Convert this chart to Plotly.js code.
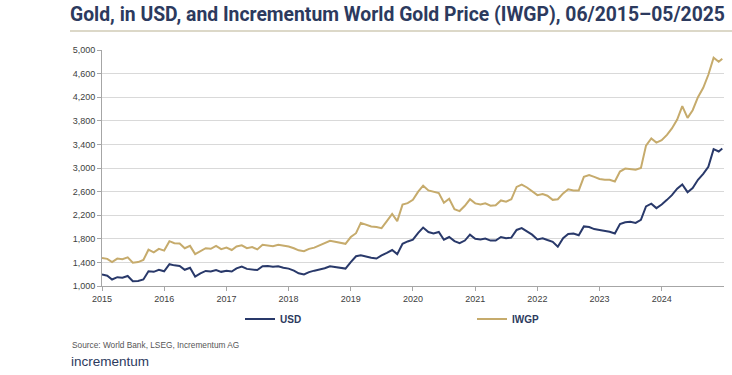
<!DOCTYPE html>
<html>
<head>
<meta charset="utf-8">
<script src="https://cdn.plot.ly/plotly-3.0.1.min.js"></script>
<style>
  html, body { margin: 0; padding: 0; background: #ffffff; }
  #chart { width: 732px; height: 375px; }
</style>
</head>
<body>
<div id="chart"></div>
<script>
// Monthly readings, chart positions from Jan 2015 (axis label "2015") onward
const usdValues = [
  1195,1175,1110,1150,1140,1170,1080,1085,1110,1250,
  1240,1275,1250,1370,1350,1340,1275,1310,1160,1215,
  1255,1245,1270,1240,1260,1245,1300,1330,1290,1280,
  1270,1335,1340,1325,1335,1310,1295,1260,1215,1195,
  1235,1260,1280,1300,1335,1320,1300,1295,
  1405,1505,1520,1495,1480,1466,1520,1560,1610,1540,
  1715,1755,1785,1900,1990,1915,1890,1915,1785,1830,
  1760,1725,1770,1870,1800,1790,1805,1770,1770,1830,
  1810,1820,1950,1980,1920,1870,1790,1810,1780,1750,
  1665,1810,1880,1890,1860,2010,2000,1965,1950,1935,
  1920,1890,2050,2080,2090,2070,2120,2350,2395,2320,
  2380,2460,2540,2650,2720,2590,2660,2800,2900,3020,
  3320,3280,3330
];
const iwgpValues = [
  1475,1460,1405,1465,1455,1485,1395,1405,1440,1615,
  1570,1630,1600,1760,1725,1720,1640,1680,1540,1595,
  1640,1630,1680,1625,1650,1610,1670,1690,1640,1660,
  1620,1700,1690,1675,1700,1690,1670,1640,1605,1590,
  1630,1650,1690,1720,1765,1750,1730,1715,
  1830,1895,2070,2045,2010,2000,1980,2100,2220,2100,
  2380,2405,2460,2600,2700,2620,2595,2575,2410,2480,
  2300,2270,2360,2470,2400,2380,2400,2360,2370,2450,
  2430,2470,2680,2720,2670,2610,2540,2560,2530,2460,
  2470,2570,2640,2620,2620,2850,2880,2850,2815,2800,
  2800,2770,2940,2990,2980,2970,3000,3380,3500,3430,
  3470,3560,3670,3820,4050,3850,3980,4200,4360,4580,
  4870,4800,4850
];
const seriesNames = ['USD', 'IWGP'];
const yearTickLabels = ['2015','2016','2017','2018','2019','2020','2021','2022','2023','2024'];
const yTickValues = [1000,1400,1800,2200,2600,3000,3400,3800,4200,4600,5000];
const lastDate = '2024-12-22';
const titleText = 'Gold, in USD, and Incrementum World Gold Price (IWGP), 06/2015–05/2025';

function monthDate(k) {
  const y = 2015 + Math.floor(k / 12);
  const m = (k % 12) + 1;
  return y + '-' + (m < 10 ? '0' + m : m) + '-01';
}
const dates = usdValues.map((_, k) => (k < usdValues.length - 1 ? monthDate(k) : lastDate));

const navy = '#29396a';
const gold = '#c6ab6c';
const sans = '"Liberation Sans", Arial, sans-serif';
const titleFamily = 'Roboto, "Liberation Sans", sans-serif';

// fit the title to the width it spans in the reference (x 70 -> 726)
function fitSize(text, family, weight, targetWidth) {
  const c = document.createElement('canvas').getContext('2d');
  c.font = weight + ' 100px ' + family;
  const w = c.measureText(text).width;
  return Math.min(21, 100 * targetWidth / w);
}
const titleSize = fitSize(titleText, titleFamily, 'bold', 655);

const traces = [
  { x: dates, y: usdValues, name: seriesNames[0], type: 'scatter', mode: 'lines',
    line: { color: navy, width: 2 }, hoverinfo: 'skip' },
  { x: dates, y: iwgpValues, name: seriesNames[1], type: 'scatter', mode: 'lines',
    line: { color: gold, width: 2 }, hoverinfo: 'skip' }
];

const layout = {
  width: 732, height: 375,
  margin: { l: 102, r: 8, t: 50, b: 89 },
  paper_bgcolor: '#ffffff', plot_bgcolor: '#ffffff',
  font: { family: sans, color: '#404040', size: 9 },
  title: {
    text: titleText,
    font: { family: titleFamily, size: titleSize, color: '#2c3a5e', weight: 'bold' },
    x: 70 / 732, xanchor: 'left', xref: 'container',
    y: 1 - 14 / 375, yanchor: 'middle', yref: 'container'
  },
  xaxis: {
    type: 'date',
    range: ['2015-01-01', '2025-01-01'],
    tickmode: 'array',
    tickvals: yearTickLabels.map(y => y + '-01-01'),
    ticktext: yearTickLabels,
    showgrid: false, zeroline: false,
    showline: true, linecolor: '#a6a6a6', linewidth: 1,
    ticks: 'outside', ticklen: 4, tickcolor: '#a6a6a6',
    tickfont: { family: sans, size: 9, color: '#404040' }
  },
  yaxis: {
    range: [1000, 5000],
    tickmode: 'array', tickvals: yTickValues,
    ticktext: yTickValues.map(v => v.toLocaleString('en-US')),
    showgrid: true, gridcolor: '#d9d9d9', gridwidth: 1,
    zeroline: false,
    showline: true, linecolor: '#a6a6a6', linewidth: 1,
    ticks: 'outside', ticklen: 4, tickcolor: '#a6a6a6',
    tickfont: { family: sans, size: 9, color: '#404040' }
  },
  showlegend: true,
  legend: {
    orientation: 'h',
    xref: 'container', yref: 'container',
    x: 240 / 732, xanchor: 'left',
    y: 1 - 319 / 375, yanchor: 'middle',
    entrywidth: 187, entrywidthmode: 'pixels',
    itemwidth: 30,
    font: { family: sans, size: 10, color: '#2c3a5e', weight: 'bold' },
    bgcolor: 'rgba(0,0,0,0)', borderwidth: 0
  },
  shapes: [
    { type: 'line', xref: 'paper', yref: 'paper',
      x0: (70 - 102) / 622, x1: (732 - 102) / 622,
      y0: (286 - 31) / 236, y1: (286 - 31) / 236,
      line: { color: '#dcd8c8', width: 2 } }
  ],
  annotations: [
    { text: 'Source: World Bank, LSEG, Incrementum AG', xref: 'paper', yref: 'paper',
      x: (70 - 102) / 622, y: (286 - 345) / 236, xanchor: 'left', yanchor: 'middle',
      showarrow: false, font: { family: sans, size: 8.3, color: '#555555' } },
    { text: 'incrementum', xref: 'paper', yref: 'paper',
      x: (69 - 102) / 622, y: (286 - 361) / 236, xanchor: 'left', yanchor: 'middle',
      showarrow: false, font: { family: sans, size: 13.5, color: '#2c3a5e' } }
  ]
};

Plotly.newPlot('chart', traces, layout, { displayModeBar: false, staticPlot: true });
</script>
</body>
</html>
